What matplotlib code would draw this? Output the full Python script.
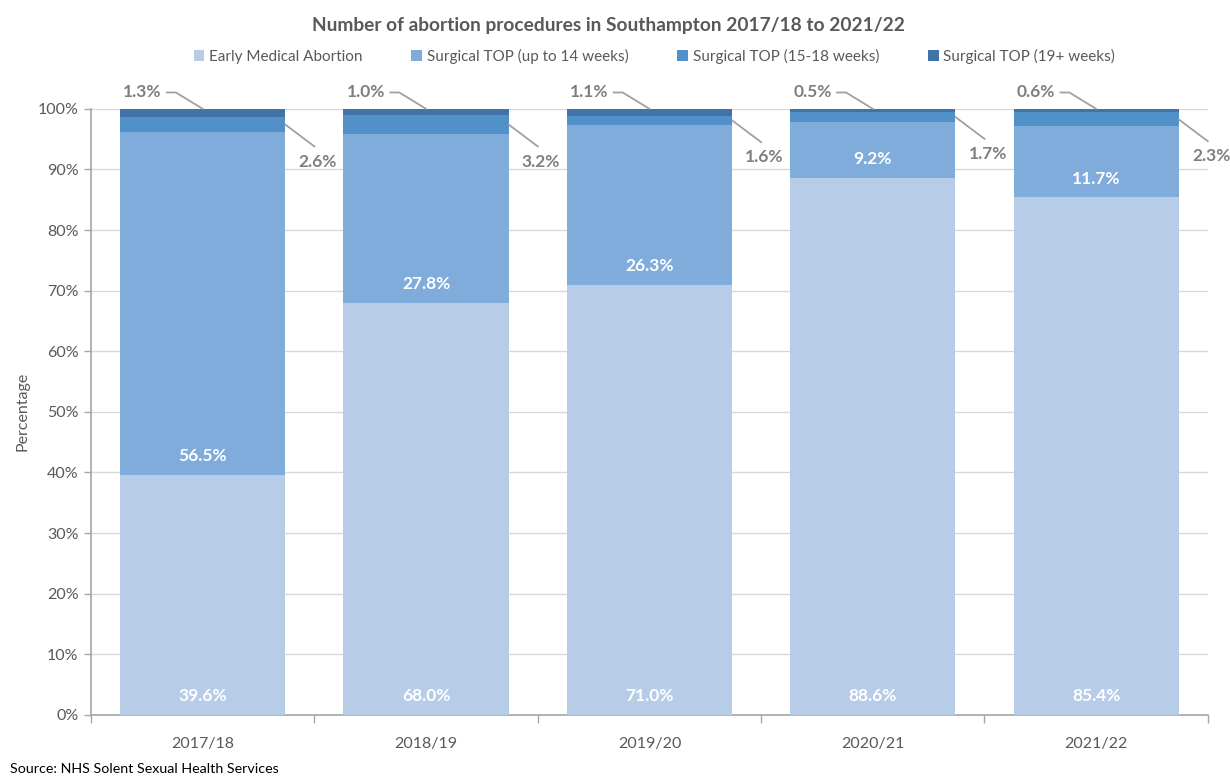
import numpy as np
import matplotlib
matplotlib.use('Agg')
import matplotlib.pyplot as plt

plt.rcParams['font.family'] = ['Lato', 'DejaVu Sans']

# data (percent of procedures)
years = ['2017/18', '2018/19', '2019/20', '2020/21', '2021/22']
series_names = ['Early Medical Abortion', 'Surgical TOP (up to 14 weeks)',
                'Surgical TOP (15-18 weeks)', 'Surgical TOP (19+ weeks)']
early_medical = [39.6, 68.0, 71.0, 88.6, 85.4]
surgical_14 = [56.5, 27.8, 26.3, 9.2, 11.7]
surgical_15_18 = [2.6, 3.2, 1.6, 1.7, 2.3]
surgical_19 = [1.3, 1.0, 1.1, 0.5, 0.6]
y_ticks = [0, 10, 20, 30, 40, 50, 60, 70, 80, 90, 100]

colours = ['#B7CCE7', '#80ACDB', '#5190C9', '#4273A8']
grey = '#595959'
label_grey = '#7F7F7F'
line_grey = '#A0A0A0'

fig = plt.figure(figsize=(12.3, 7.83), dpi=100)
ax = fig.add_axes([0.074, 0.087, 0.908, 0.774])

x = np.arange(len(years))
width = 0.74
series = [early_medical, surgical_14, surgical_15_18, surgical_19]
bottom = np.zeros(len(years))
bars = []
for vals, name, col in zip(series, series_names, colours):
    b = ax.bar(x, vals, width, bottom=bottom, color=col, label=name, zorder=3)
    bars.append((np.array(vals), bottom.copy()))
    bottom = bottom + np.array(vals)

# white labels inside the two big segments, near the base of each
for vals, base in bars[:2]:
    for i in range(len(years)):
        ax.text(x[i], base[i] + 3.1, f'{vals[i]:.1f}%', ha='center', va='center',
                color='white', fontsize=12.5, fontweight='bold', zorder=4)

# 15-18 weeks: label to the right with leader line
vals, base = bars[2]
for i in range(len(years)):
    mid = base[i] + vals[i] / 2
    ax.plot([x[i] + width / 2, x[i] + 0.5], [mid, mid - 3.6], color=line_grey,
            lw=1.3, zorder=4, clip_on=False)
    ax.text(x[i] + 0.515, mid - 6.1, f'{vals[i]:.1f}%', ha='center', va='center',
            color=label_grey, fontsize=12.5, fontweight='bold')

# 19+ weeks: label above-left with leader line
vals, base = bars[3]
for i in range(len(years)):
    top = base[i] + vals[i]
    ax.plot([x[i] - 0.16, x[i] - 0.12, x[i]], [102.7, 102.7, top], color=line_grey,
            lw=1.3, zorder=4, clip_on=False)
    ax.text(x[i] - 0.27, 102.7, f'{vals[i]:.1f}%', ha='center', va='center',
            color=label_grey, fontsize=12.5, fontweight='bold')

ax.set_xlim(-0.5, len(years) - 0.5)
ax.set_ylim(0, 100)
ax.set_yticks(y_ticks)
ax.set_yticklabels([f'{t}%' for t in y_ticks])
ax.set_xticks(x)
ax.set_xticklabels(years)
ax.set_xticks(np.arange(-0.5, len(years), 1), minor=True)
ax.tick_params(axis='x', which='major', length=0, pad=16, labelsize=11.5, labelcolor=grey)
ax.tick_params(axis='x', which='minor', length=6, width=1, color='#A6A6A6')
ax.tick_params(axis='y', length=5, width=1, color='#A6A6A6', labelsize=11.5,
               labelcolor=grey, pad=4)
ax.grid(axis='y', color='#D9D9D9', lw=1, zorder=0)
for s in ['top', 'right']:
    ax.spines[s].set_visible(False)
for s in ['left', 'bottom']:
    ax.spines[s].set_color('#A6A6A6')
    ax.spines[s].set_linewidth(1.2)
ax.set_ylabel('Percentage', fontsize=11.5, color=grey, labelpad=6)

fig.text(0.495, 0.968, 'Number of abortion procedures in Southampton 2017/18 to 2021/22',
         ha='center', va='center', fontsize=13.8, fontweight='bold', color=grey)
fig.legend(loc='center', bbox_to_anchor=(0.532, 0.928), ncol=4, frameon=False,
           fontsize=11, handlelength=0.7, handleheight=0.7, handletextpad=0.3,
           columnspacing=3.2, labelcolor=grey)
fig.text(0.008, 0.01, 'Source: NHS Solent Sexual Health Services', fontsize=10.3,
         color='black', ha='left', va='bottom')

fig.savefig('out.png', dpi=100)
